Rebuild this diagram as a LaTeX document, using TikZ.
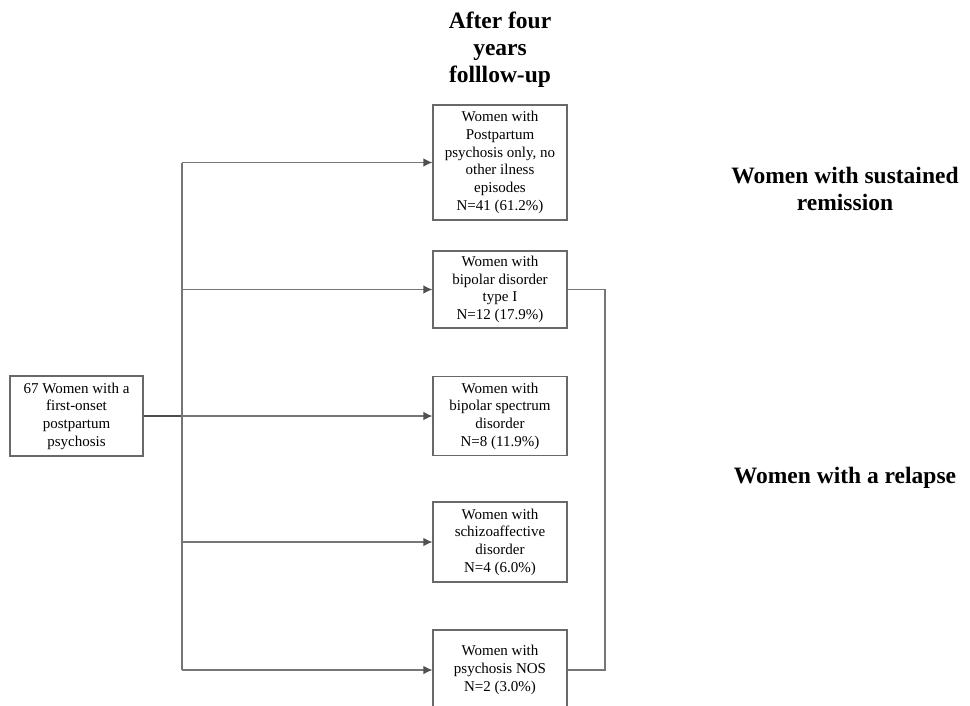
\documentclass[tikz,border=0pt]{standalone}
\usepackage{fontspec}
\setmainfont{Liberation Serif}
\usetikzlibrary{arrows.meta}
\definecolor{linegray}{RGB}{118,118,118}
\definecolor{boxgray}{RGB}{105,105,105}
\definecolor{tipgray}{RGB}{80,80,80}
\tikzset{
  box/.style={draw=boxgray, line width=1.1pt, fill=white, align=center, minimum width=134pt, inner sep=2pt,
    font=\fontsize{15}{17.7}\selectfont},
  conn/.style={draw=linegray, line width=1.3pt},
  arr/.style={conn, -{Latex[length=9pt,width=8.5pt,color=tipgray]}},
  bighead/.style={align=center, font=\fontsize{23.5}{27}\selectfont\bfseries},
}
\begin{document}
\begin{tikzpicture}[x=1pt,y=-1pt]
\clip (0,0) rectangle (970,705);
\useasboundingbox (0,0) rectangle (970,705);
\fill[white] (0,0) rectangle (970,705);

\node[bighead] (head) at (500,50) {After four\\years\\folllow-up};
\node[bighead] (rem) at (845,189) {Women with sustained\\remission};
\node[bighead] (rel) at (845,478) {Women with a relapse};

\node[box, minimum width=133pt, minimum height=80pt] (L) at (76.5,416) {67 Women with a\\first-onset\\postpartum\\psychosis};

\node[box, minimum height=115pt] (b1) at (500,162.5) {Women with\\Postpartum\\psychosis only, no\\other ilness\\episodes\\N=41 (61.2\%)};
\node[box, minimum height=77pt] (b2) at (500,289.5) {Women with\\bipolar disorder\\type I\\N=12 (17.9\%)};
\node[box, minimum height=79pt] (b3) at (500,416) {Women with\\bipolar spectrum\\disorder\\N=8 (11.9\%)};
\node[box, minimum height=80pt] (b4) at (500,542) {Women with\\schizoaffective\\disorder\\N=4 (6.0\%)};
\node[box, minimum height=80pt] (b5) at (500,670) {Women with\\psychosis NOS\\N=2 (3.0\%)};

\coordinate (j) at (182,416);
\draw[conn, draw=black!70] (L.east) -- (j);
\draw[conn] (j |- b1.west) -- (j |- b5.west);
\foreach \b in {b1,b2,b3,b4,b5}{
  \draw[arr] (j |- \b.west) -- (\b.west);
}
\coordinate (r) at (605,289.5);
\draw[conn] (b2.east) -- (r) |- (b5.east);
\end{tikzpicture}
\end{document}
